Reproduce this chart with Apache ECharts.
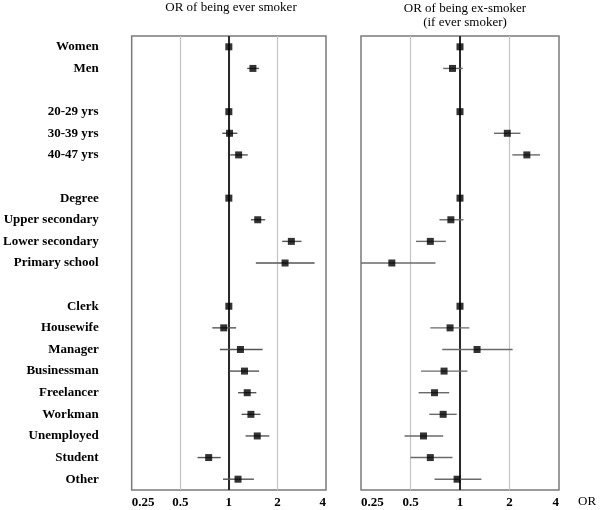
<!DOCTYPE html>
<html>
<head>
<meta charset="utf-8">
<script src="https://cdn.jsdelivr.net/npm/echarts@6/dist/echarts.min.js"></script>
<style>html,body{margin:0;padding:0;background:#fff}#c{width:600px;height:510px}</style>
</head>
<body>
<div id="c"></div>
<script>
const rowLabels = ['Women','Men',' ','20-29 yrs','30-39 yrs','40-47 yrs','  ','Degree','Upper secondary','Lower secondary','Primary school','   ','Clerk','Housewife','Manager','Businessman','Freelancer','Workman','Unemployed','Student','Other'];
const tickValues = [0.25, 0.5, 1, 2, 4];

const everOR = [1.00,1.41,null,1.00,1.01,1.15,null,1.00,1.51,2.44,2.23,null,1.00,0.93,1.18,1.25,1.30,1.37,1.50,0.75,1.14];
const everLo = [null,1.30,null,null,0.91,1.02,null,null,1.37,2.14,1.47,null,null,0.79,0.88,1.01,1.14,1.20,1.27,0.64,0.92];
const everHi = [null,1.54,null,null,1.13,1.31,null,null,1.68,2.82,3.40,null,null,1.11,1.62,1.54,1.48,1.57,1.78,0.89,1.43];

const exOR = [1.00,0.90,null,1.00,1.94,2.55,null,1.00,0.88,0.66,0.385,null,1.00,0.87,1.27,0.80,0.70,0.79,0.60,0.66,0.96];
const exLo = [null,0.79,null,null,1.61,2.08,null,null,0.75,0.54,0.25,null,null,0.66,0.78,0.58,0.56,0.65,0.46,0.50,0.70];
const exHi = [null,1.04,null,null,2.33,3.07,null,null,1.05,0.82,0.71,null,null,1.14,2.09,1.11,0.86,0.955,0.79,0.90,1.35];

const serif = '"Liberation Serif","Times New Roman",serif';

function pts(or){ const d=[]; or.forEach((v,i)=>{ if(v!=null) d.push([v,i]); }); return d; }
function cis(lo,hi){ const d=[]; lo.forEach((v,i)=>{ if(v!=null && hi[i]!=null) d.push([v,hi[i],i]); }); return d; }

function xAxisFor(gi){
  return {
    type:'log', logBase:2, min:0.25, max:4, gridIndex:gi,
    axisLine:{show:false}, axisTick:{show:false},
    axisLabel:{show:true, fontFamily:serif, fontWeight:'bold', fontSize:13, color:'#000', margin:6,
      alignMinLabel:'left', alignMaxLabel:'right',
      formatter:v=>{ const t = tickValues.find(x=>Math.abs(x-v)<1e-6); return t!=null? String(t):''; }},
    splitLine:{show:true, showMinLine:false, showMaxLine:false, lineStyle:{color:'#c4c4c4', width:1.2}}
  };
}
function yAxisFor(gi, showLabels){
  return {
    type:'category', data:rowLabels, inverse:true, gridIndex:gi, boundaryGap:true,
    axisLine:{show:false}, axisTick:{show:false}, splitLine:{show:false},
    axisLabel:{show:showLabels, interval:0, fontFamily:serif, fontWeight:'bold', fontSize:13, color:'#000', margin:33}
  };
}
function ciSeries(gi, lo, hi, color){
  return {
    type:'custom', xAxisIndex:gi, yAxisIndex:gi, data:cis(lo,hi), clip:true, z:3,
    encode:{x:[0,1], y:2},
    renderItem:(params, api)=>{
      const a = api.coord([api.value(0), api.value(2)]);
      const b = api.coord([api.value(1), api.value(2)]);
      return {type:'line', shape:{x1:a[0],y1:a[1],x2:b[0],y2:b[1]}, style:{stroke:color, lineWidth:1.4}};
    }
  };
}
function ptSeries(gi, or){
  return {
    type:'scatter', xAxisIndex:gi, yAxisIndex:gi, data:pts(or), symbol:'rect', symbolSize:[7,7],
    itemStyle:{color:'#000'}, z:4,
    markLine:{silent:true, symbol:'none', label:{show:false}, lineStyle:{color:'#2a2a2a', width:2, type:'solid'},
      data:[{xAxis:1}], z:2}
  };
}

const chart = echarts.init(document.getElementById('c'), null, {renderer:'canvas'});
chart.setOption({
  animation:false,
  backgroundColor:'#fff',
  title:[
    {text:'OR of being ever smoker', left:226, top:-4, textAlign:'center',
      textStyle:{fontFamily:serif, fontWeight:'normal', fontSize:13, color:'#000', lineHeight:14}},
    {text:'OR of being ex-smoker\n(if ever smoker)', left:460, top:-4, textAlign:'center',
      textStyle:{fontFamily:serif, fontWeight:'normal', fontSize:13, color:'#000', lineHeight:14.5}}
  ],
  grid:[
    {left:126, right:274, top:36, bottom:20, show:true, borderColor:'#7a7a7a', borderWidth:1.5, backgroundColor:'transparent'},
    {left:361, right:41, top:36, bottom:20, show:true, borderColor:'#7a7a7a', borderWidth:1.5, backgroundColor:'transparent'}
  ],
  xAxis:[xAxisFor(0), xAxisFor(1)],
  yAxis:[yAxisFor(0,true), yAxisFor(1,false)],
  graphic:[{type:'text', left:578, top:495, style:{text:'OR', fontFamily:serif, fontWeight:'normal', fontSize:13, fill:'#000'}}],
  series:[
    ciSeries(0, everLo, everHi, '#555'),
    ptSeries(0, everOR),
    ciSeries(1, exLo, exHi, '#6a6a6a'),
    ptSeries(1, exOR)
  ]
});
</script>
</body>
</html>
